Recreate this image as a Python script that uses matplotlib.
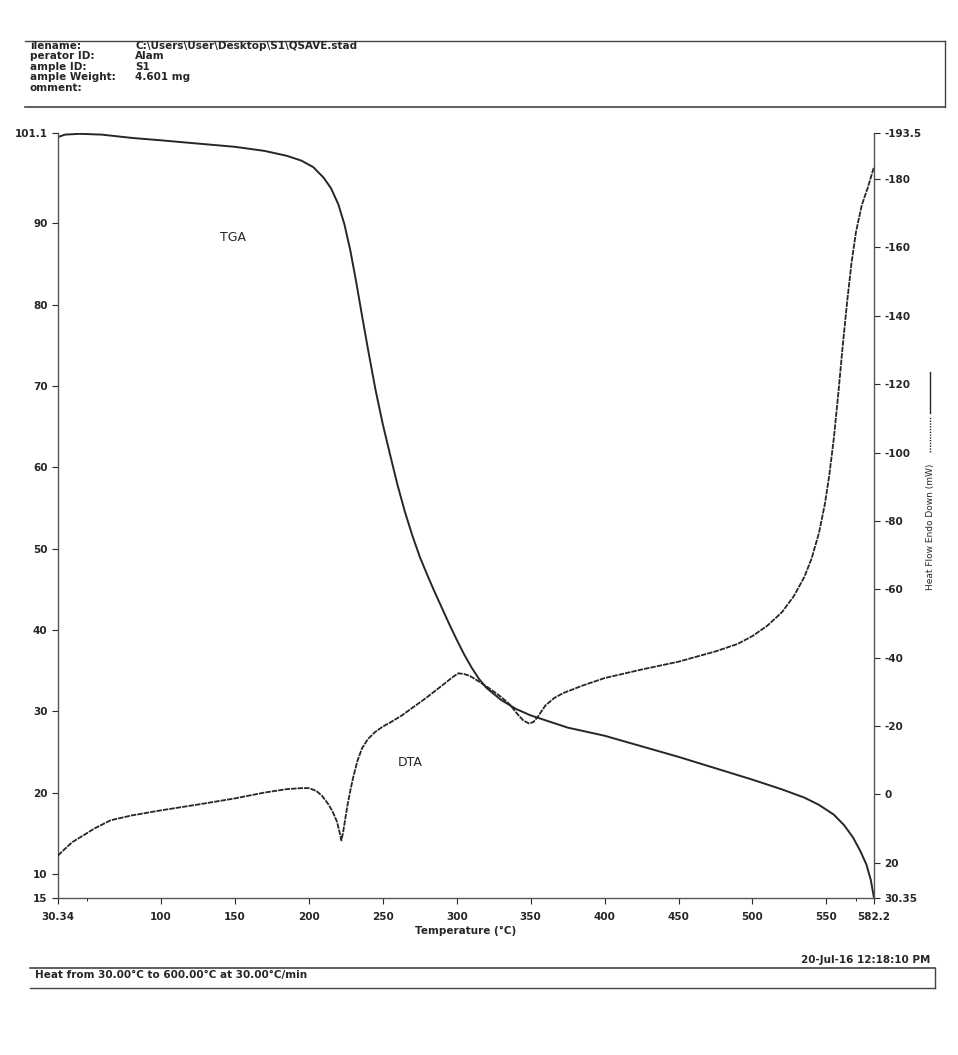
import numpy as np
import matplotlib
matplotlib.use("Agg")
import matplotlib.pyplot as plt
from matplotlib.lines import Line2D

plt.rcParams['font.family'] = ['DejaVu Sans']

# TGA curve (weight %, left axis)
tga_temp = [30.34, 35, 45, 60, 80, 100, 125, 150, 170, 185, 195, 203, 210, 215, 220, 224,
            228, 232, 236, 240, 245, 250, 255, 260, 265, 270, 275, 280, 285, 290, 295,
            300, 305, 310, 315, 320, 330, 340, 350, 360, 375, 400, 425, 450, 475, 500,
            520, 535, 545, 555, 562, 568, 573, 577, 580, 582.2]
tga_wt = [100.6, 100.9, 101.0, 100.9, 100.5, 100.2, 99.8, 99.4, 98.9, 98.3, 97.7, 96.9,
          95.6, 94.3, 92.3, 89.9, 86.7, 82.8, 78.6, 74.5, 69.6, 65.3, 61.5, 57.8, 54.5,
          51.6, 49.0, 46.8, 44.7, 42.7, 40.7, 38.8, 37.0, 35.4, 34.0, 32.9, 31.4, 30.3,
          29.5, 28.9, 28.0, 27.0, 25.7, 24.4, 23.0, 21.6, 20.4, 19.4, 18.5, 17.3, 16.0,
          14.5, 12.8, 11.2, 9.3, 7.05]

# DTA curve (heat flow mW, right axis, endo down)
dta_temp = [30.34, 35, 40, 47.6, 55, 66, 80, 100, 125, 150, 170, 185, 195, 200, 205, 209,
            213, 216, 219, 221, 222, 223.2, 224.5, 226, 228, 230, 233, 236, 240, 245, 250,
            255, 263, 270, 279, 290, 297, 301, 305, 309, 315, 322, 330, 336, 341, 345, 349,
            352, 355, 360, 366, 372, 385, 400, 425, 450, 475, 490, 500, 510, 520, 528, 535,
            540, 545, 549, 552, 555, 558, 561, 564, 567, 570, 574, 578, 582.2]
dta_mw = [17.9, 16.0, 14.0, 12.0, 10.0, 7.6, 6.2, 4.7, 3.0, 1.2, -0.5, -1.5, -1.8, -1.8,
          -1.0, 0.5, 2.8, 5.0, 8.0, 11.5, 13.5, 11.0, 7.5, 3.5, -1.0, -5.0, -10.0, -13.5,
          -16.2, -18.3, -19.8, -21.0, -23.1, -25.3, -28.1, -31.8, -34.2, -35.4, -35.2,
          -34.6, -33.0, -31.0, -28.5, -26.2, -23.5, -21.6, -20.7, -21.2, -22.8, -26.0,
          -28.2, -29.6, -31.8, -34.0, -36.5, -38.8, -41.8, -44.0, -46.3, -49.3, -53.3,
          -58.0, -63.5, -69.0, -76.5, -85.0, -93.5, -104.0, -117.0, -131.0, -144.0,
          -155.5, -164.5, -172.5, -177.5, -183.6]

x_ticks = [30.34, 100, 150, 200, 250, 300, 350, 400, 450, 500, 550, 582.2]
x_labels = ["30.34", "100", "150", "200", "250", "300", "350", "400", "450", "500", "550", "582.2"]
left_ticks = [7.05, 10, 20, 30, 40, 50, 60, 70, 80, 90, 101.1]
left_labels = ["15", "10", "20", "30", "40", "50", "60", "70", "80", "90", "101.1"]
right_ticks = [-193.5, -180, -160, -140, -120, -100, -80, -60, -40, -20, 0, 20, 30.35]
right_labels = ["-193.5", "-180", "-160", "-140", "-120", "-100", "-80", "-60", "-40", "-20", "0", "20", "30.35"]

fig = plt.figure(figsize=(9.58, 10.55), dpi=100)
W, H = 958, 1055
ax = fig.add_axes([58 / W, 1 - 898 / H, (874 - 58) / W, (898 - 133) / H])
ax2 = ax.twinx()

ink = "#262626"
ax.plot(tga_temp, tga_wt, color=ink, lw=1.4)
ax2.plot(dta_temp, dta_mw, color=ink, lw=1.3, ls=(0, (3, 0.6)))

ax.set_xlim(30.34, 582.2)
ax.set_ylim(7.05, 101.1)
ax2.set_ylim(30.35, -193.5)

ax.set_xticks(x_ticks)
ax.set_xticklabels(x_labels)
ax.set_yticks(left_ticks)
ax.set_yticklabels(left_labels)
ax2.set_yticks(right_ticks)
ax2.set_yticklabels(right_labels)
ax.set_xticks([50, 570], minor=True)

for a in (ax, ax2):
    a.tick_params(labelsize=7.5, colors=ink, direction="out", length=4, width=0.8)
    for lab in a.get_xticklabels() + a.get_yticklabels():
        lab.set_fontweight("bold")
    for s in a.spines.values():
        s.set_visible(False)
ax.tick_params(axis="x", pad=6)
ax.spines["left"].set_visible(True)
ax.spines["bottom"].set_visible(True)
ax2.spines["right"].set_visible(True)
for s in (ax.spines["left"], ax.spines["bottom"], ax2.spines["right"]):
    s.set_color("#555555")
    s.set_linewidth(1.0)

ax.set_xlabel("Temperature (°C)", fontsize=7.5, fontweight="bold", color=ink, labelpad=3)
ax.text(149, 88.2, "TGA", fontsize=9, color=ink, ha="center", va="center")
ax2.text(268.7, -9.4, "DTA", fontsize=9, color=ink, ha="center", va="center")

# right axis label with line-style key
fig.text(930 / W, 1 - 527 / H, "Heat Flow Endo Down (mW)", rotation=90, fontsize=6.5,
         color=ink, ha="center", va="center")
fig.add_artist(Line2D([930 / W, 930 / W], [1 - 452 / H, 1 - 416 / H],
                      transform=fig.transFigure, color=ink, lw=1.0, ls=(0, (1, 1))))
fig.add_artist(Line2D([930 / W, 930 / W], [1 - 413 / H, 1 - 372 / H],
                      transform=fig.transFigure, color=ink, lw=1.0))

# header box
fig.add_artist(Line2D([25 / W, 945 / W], [1 - 41 / H, 1 - 41 / H], transform=fig.transFigure, color="#444", lw=1.0))
fig.add_artist(Line2D([25 / W, 945 / W], [1 - 107 / H, 1 - 107 / H], transform=fig.transFigure, color="#444", lw=1.2))
fig.add_artist(Line2D([945 / W, 945 / W], [1 - 41 / H, 1 - 107 / H], transform=fig.transFigure, color="#444", lw=1.0))
head_keys = ["ilename:", "perator ID:", "ample ID:", "ample Weight:", "omment:"]
head_vals = ["C:\\Users\\User\\Desktop\\S1\\QSAVE.stad", "Alam", "S1", "4.601 mg", ""]
for i, (k, v) in enumerate(zip(head_keys, head_vals)):
    yy = 1 - (46 + i * 10.5) / H
    fig.text(30 / W, yy, k, fontsize=7.5, fontweight="bold", color=ink, va="center")
    fig.text(135 / W, yy, v, fontsize=7.5, fontweight="bold", color=ink, va="center")

# footer
fig.text(930 / W, 1 - 960 / H, "20-Jul-16 12:18:10 PM", fontsize=7.5, fontweight="bold",
         color=ink, ha="right", va="center")
fig.add_artist(Line2D([30 / W, 935 / W], [1 - 968 / H, 1 - 968 / H], transform=fig.transFigure, color="#444", lw=1.2))
fig.add_artist(Line2D([30 / W, 935 / W], [1 - 988 / H, 1 - 988 / H], transform=fig.transFigure, color="#444", lw=1.0))
fig.add_artist(Line2D([935 / W, 935 / W], [1 - 968 / H, 1 - 988 / H], transform=fig.transFigure, color="#444", lw=1.0))
fig.text(35 / W, 1 - 975 / H, "Heat from 30.00°C to 600.00°C at 30.00°C/min", fontsize=7.5,
         fontweight="bold", color=ink, va="center")

fig.savefig("out.png", dpi=100)
